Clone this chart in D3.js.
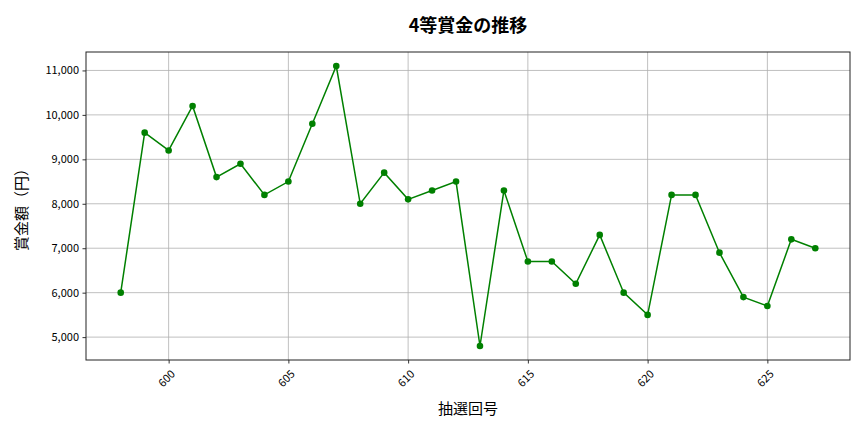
<!DOCTYPE html>
<html><head><meta charset="utf-8">
<script src="https://cdn.jsdelivr.net/npm/d3@7"></script>
<style>
body{margin:0;background:#fff;}
text{font-family:"Noto Sans CJK JP","DejaVu Sans",sans-serif;}
</style></head>
<body><svg id="c" width="864" height="432"></svg>
<script>
const rounds = [598,599,600,601,602,603,604,605,606,607,608,609,610,611,612,613,614,615,616,617,618,619,620,621,622,623,624,625,626,627];
const prizes = [6000,9600,9200,10200,8600,8900,8200,8500,9800,11100,8000,8700,8100,8300,8500,4800,8300,6700,6700,6200,7300,6000,5500,8200,8200,6900,5900,5700,7200,7000];
const xTicks = [600,605,610,615,620,625];
const yTicks = [5000,6000,7000,8000,9000,10000,11000];
const titleText = "4等賞金の推移";
const xLabel = "抽選回号";
const yLabel = "賞金額（円）";

const svg = d3.select("#c");
const L=86,R=850,T=52,B=360;
const xmin=d3.min(rounds), xmax=d3.max(rounds), xm=(xmax-xmin)*0.05;
const ymin=d3.min(prizes), ymax=d3.max(prizes), ym=(ymax-ymin)*0.05;
const x=d3.scaleLinear().domain([xmin-xm,xmax+xm]).range([L,R]);
const y=d3.scaleLinear().domain([ymin-ym,ymax+ym]).range([B,T]);

// grid
svg.append("g").selectAll("line").data(xTicks).join("line")
  .attr("x1",d=>x(d)).attr("x2",d=>x(d)).attr("y1",T).attr("y2",B)
  .attr("stroke","#b0b0b0").attr("stroke-width",0.8);
svg.append("g").selectAll("line").data(yTicks).join("line")
  .attr("y1",d=>y(d)).attr("y2",d=>y(d)).attr("x1",L).attr("x2",R)
  .attr("stroke","#b0b0b0").attr("stroke-width",0.8);

// axes
const fmt=d3.format(",");
const yAxis=svg.append("g").attr("transform",`translate(${L},0)`)
  .call(d3.axisLeft(y).tickValues(yTicks).tickFormat(fmt).tickSize(3.5).tickPadding(3.5));
yAxis.select(".domain").remove();
yAxis.selectAll("text").attr("font-size",11).attr("fill","#000").style("font-family","'Noto Sans CJK JP','DejaVu Sans',sans-serif");
yAxis.selectAll("line").attr("stroke","#333");

const xAxis=svg.append("g").attr("transform",`translate(0,${B})`)
  .call(d3.axisBottom(x).tickValues(xTicks).tickFormat(d3.format("d")).tickSize(3.5));
xAxis.select(".domain").remove();
xAxis.selectAll("line").attr("stroke","#333");
xAxis.selectAll("text").attr("font-size",11).attr("fill","#000")
  .style("font-family","'Noto Sans CJK JP','DejaVu Sans',sans-serif")
  .attr("text-anchor","end").attr("dy","0.35em")
  .attr("transform","translate(4,12) rotate(-45)").attr("y",0).attr("x",0);

// line
const line=d3.line().x((d,i)=>x(rounds[i])).y(d=>y(d));
svg.append("path").datum(prizes).attr("d",line).attr("fill","none")
  .attr("stroke","#008000").attr("stroke-width",1.5);
svg.append("g").selectAll("circle").data(prizes).join("circle")
  .attr("cx",(d,i)=>x(rounds[i])).attr("cy",d=>y(d)).attr("r",3.3).attr("fill","#008000");

// frame
svg.append("rect").attr("x",L).attr("y",T).attr("width",R-L).attr("height",B-T)
  .attr("fill","none").attr("stroke","#222").attr("stroke-width",1);

// labels
svg.append("text").attr("x",(L+R)/2).attr("y",32).attr("text-anchor","middle")
  .attr("font-size",18).attr("font-weight","bold").text(titleText);
svg.append("text").attr("x",(L+R)/2).attr("y",414).attr("text-anchor","middle")
  .attr("font-size",15).text(xLabel);
svg.append("text").attr("transform",`translate(27,${(T+B)/2}) rotate(-90)`).attr("text-anchor","middle")
  .attr("font-size",15).text(yLabel);
</script></body></html>
